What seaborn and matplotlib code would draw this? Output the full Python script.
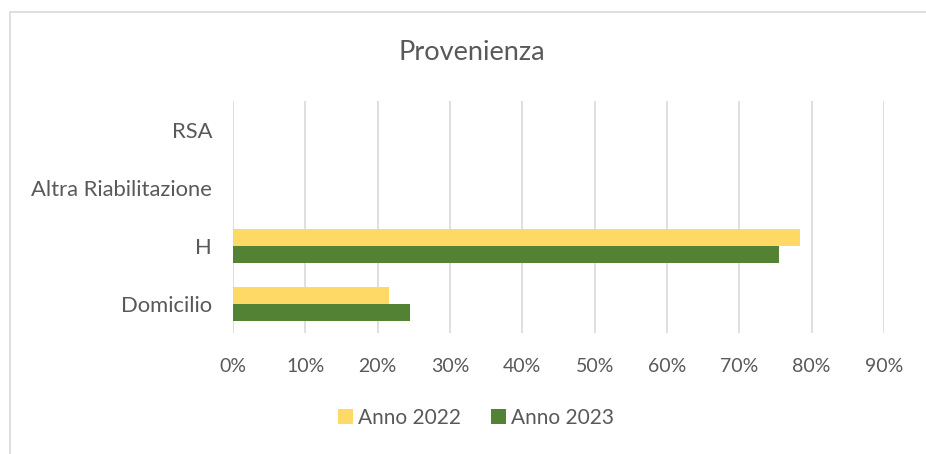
import numpy as np
import pandas as pd
import seaborn as sns
import matplotlib.pyplot as plt
from matplotlib.ticker import PercentFormatter
from matplotlib.patches import Rectangle, Patch

# Data
categories = ['RSA', 'Altra Riabilitazione', 'H', 'Domicilio']
anno_2022 = [0.0, 0.0, 0.784, 0.216]
anno_2023 = [0.0, 0.0, 0.755, 0.245]
series = ['Anno 2022', 'Anno 2023']
x_ticks = [0.0, 0.1, 0.2, 0.3, 0.4, 0.5, 0.6, 0.7, 0.8, 0.9]

df = pd.DataFrame({
    'Provenienza': categories * 2,
    'Valore': anno_2022 + anno_2023,
    'Anno': [series[0]] * len(categories) + [series[1]] * len(categories),
})

sns.set_style('white')
plt.rcParams['font.family'] = ['Lato', 'DejaVu Sans']

text_col = '#595959'
grid_col = '#D9D9D9'
palette = {series[0]: '#FFD966', series[1]: '#548235'}

fig = plt.figure(figsize=(9.26, 4.54), dpi=100)
ax = fig.add_axes([233 / 926, 1 - 333 / 454, (884 - 233) / 926, (333 - 101) / 454])

sns.barplot(
    data=df, y='Provenienza', x='Valore', hue='Anno',
    order=categories, hue_order=series, palette=palette,
    width=0.58, orient='h', ax=ax, legend=False, saturation=1,
    linewidth=0,
)

ax.set_xlim(0, 0.9)
ax.set_xticks(x_ticks)
ax.xaxis.set_major_formatter(PercentFormatter(1.0, decimals=0))
ax.grid(axis='x', color=grid_col, linewidth=1.2)
ax.set_axisbelow(True)
for s in ax.spines.values():
    s.set_visible(False)
ax.tick_params(axis='x', length=0, labelsize=14, colors=text_col, pad=18)
ax.tick_params(axis='y', length=0, labelsize=15.8, colors=text_col, pad=15)
ax.set_xlabel('')
ax.set_ylabel('')

# title and legend (centred on the chart frame, which starts at x=10)
fig.text(472 / 926, 1 - 52 / 454, 'Provenienza', ha='center', va='center',
         fontsize=19.5, color=text_col)
handles = [Patch(facecolor=palette[s], edgecolor='none', label=s) for s in series]
fig.legend(handles=handles, loc='center', bbox_to_anchor=(476 / 926, 1 - 418 / 454),
           ncol=2, frameon=False, fontsize=15, labelcolor=text_col,
           handlelength=0.75, handleheight=0.75, handletextpad=0.25, columnspacing=1.4)

# outer chart border
fig.patches.append(Rectangle((10 / 926, -0.05), 1.0, 1 - 11.5 / 454 + 0.05,
                             transform=fig.transFigure, fill=False,
                             edgecolor=grid_col, linewidth=1.2))

fig.savefig('out.png', dpi=100)
